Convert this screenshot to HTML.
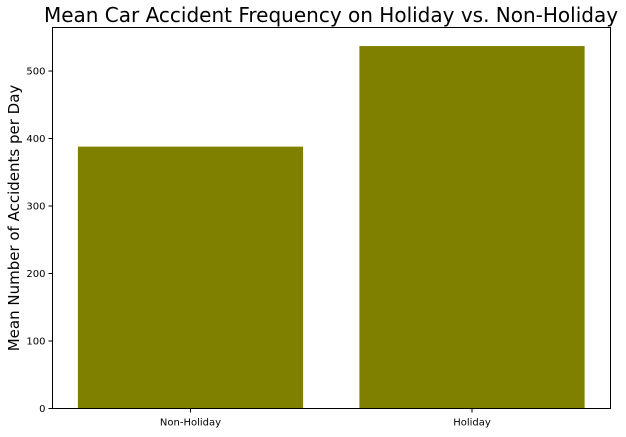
<!DOCTYPE html>
<html><head><meta charset="utf-8"><style>
body{margin:0;background:#fff;width:626px;height:432px;overflow:hidden}
text{font-family:"DejaVu Sans","Liberation Sans",sans-serif}
</style></head><body>
<svg id="c" width="626" height="432">
<text x="331" y="22" text-anchor="middle" font-size="20">Mean Car Accident Frequency on Holiday vs. Non-Holiday</text>
<text transform="translate(19,218) rotate(-90)" text-anchor="middle" font-size="15">Mean Number of Accidents per Day</text>
<g id="bars"></g><g id="ticks"></g>
<rect x="52.5" y="27.5" width="558" height="381" fill="none" stroke="#000" stroke-width="1"/>
</svg>
<script>
const categories=["Non-Holiday","Holiday"];
const values=[388,537];
const yTicks=[0,100,200,300,400,500];
const L=52.5,R=610.5,T=27.5,B=408.5,ymax=564.5;
const y=v=>B-(v/ymax)*(B-T);
const unit=281.5;
const x=i=>L+138+unit*i;
const barW=0.8*unit;
const ns="http://www.w3.org/2000/svg";
const bars=document.getElementById('bars'),ticks=document.getElementById('ticks');
categories.forEach((c,i)=>{
 const r=document.createElementNS(ns,'rect');
 r.setAttribute('x',x(i)-barW/2);r.setAttribute('width',barW);
 r.setAttribute('y',y(values[i]));r.setAttribute('height',B-y(values[i]));
 r.setAttribute('fill','#808000');
 
 
 bars.appendChild(r);
 const l=document.createElementNS(ns,'line');
 l.setAttribute('x1',x(i));l.setAttribute('x2',x(i));l.setAttribute('y1',B);l.setAttribute('y2',B+4);l.setAttribute('stroke','#000');
 
 
 ticks.appendChild(l);
 const t=document.createElementNS(ns,'text');
 t.setAttribute('x',x(i));t.setAttribute('y',B+17);t.setAttribute('text-anchor','middle');t.setAttribute('font-size','10');
 t.textContent=c;
 
 
 ticks.appendChild(t);
});
yTicks.forEach(v=>{
 const l=document.createElementNS(ns,'line');
 l.setAttribute('x1',L-4);l.setAttribute('x2',L);l.setAttribute('y1',y(v));l.setAttribute('y2',y(v));l.setAttribute('stroke','#000');
 
 
 ticks.appendChild(l);
 const t=document.createElementNS(ns,'text');
 t.setAttribute('x',L-7);t.setAttribute('y',y(v)+3.5);t.setAttribute('text-anchor','end');t.setAttribute('font-size','10');
 t.textContent=v;
 
 
 ticks.appendChild(t);
});
</script>
</body></html>
